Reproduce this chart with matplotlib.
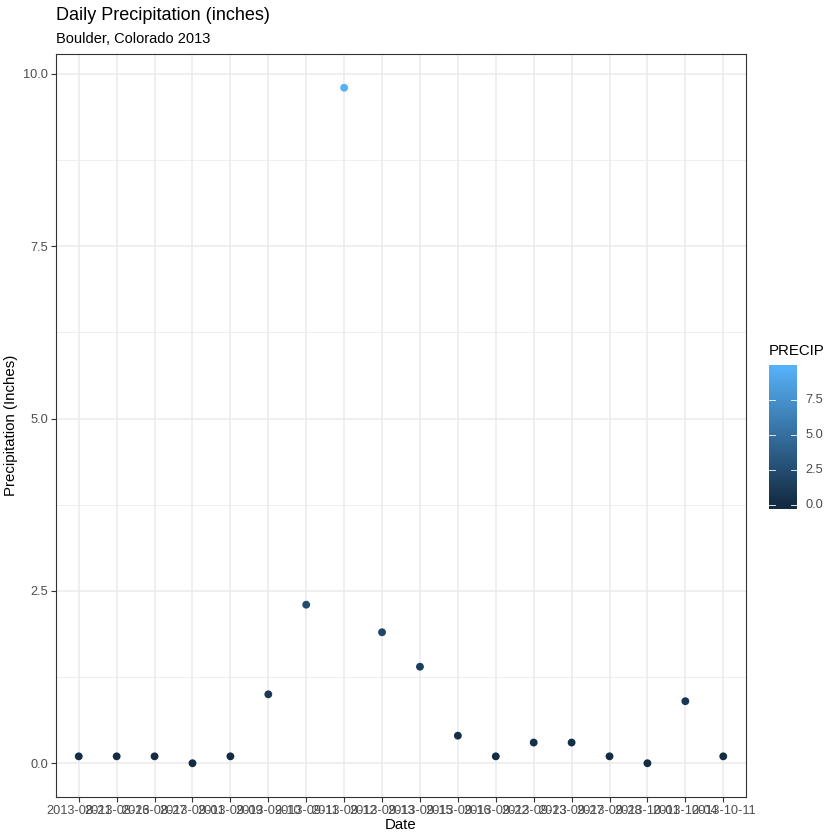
import matplotlib
matplotlib.use("Agg")
import matplotlib.pyplot as plt
import numpy as np
from matplotlib.colors import LinearSegmentedColormap, Normalize

plt.rcParams['font.family'] = ['Liberation Sans', 'DejaVu Sans']

dates = ["2013-08-21", "2013-08-26", "2013-08-27", "2013-09-01", "2013-09-09",
         "2013-09-10", "2013-09-11", "2013-09-12", "2013-09-13", "2013-09-15",
         "2013-09-16", "2013-09-22", "2013-09-23", "2013-09-27", "2013-09-28",
         "2013-10-01", "2013-10-04", "2013-10-11"]
precip = [0.1, 0.1, 0.1, 0.0, 0.1, 1.0, 2.3, 9.8, 1.9, 1.4,
          0.4, 0.1, 0.3, 0.3, 0.1, 0.0, 0.9, 0.1]
y_ticks = [0.0, 2.5, 5.0, 7.5, 10.0]
cbar_ticks = [0.0, 2.5, 5.0, 7.5]

W = H = 840
fig = plt.figure(figsize=(8.4, 8.4), dpi=100)

def fx(px):
    return px / W

def fy(py):
    return 1 - py / H

cmap = LinearSegmentedColormap.from_list("gg", ["#132B43", "#56B1F7"])
vmin, vmax = min(precip), max(precip)
norm = Normalize(vmin=vmin, vmax=vmax)

# main panel
L, R, T, B = 56, 746, 54, 797
ax = fig.add_axes([fx(L), fy(B), fx(R - L), fy(T) - fy(B)])
x = np.arange(len(dates))
ax.scatter(x, precip, c=precip, cmap=cmap, norm=norm, s=32, zorder=3, linewidths=0)
ax.set_xlim(-0.6, len(dates) - 1 + 0.6)
yr = vmax - vmin
ax.set_ylim(vmin - 0.05 * yr, vmax + 0.05 * yr)
ax.set_xticks(x)
ax.set_xticklabels(dates)
ax.set_yticks(y_ticks)
ax.set_yticklabels([f"{v:.1f}" for v in y_ticks])
minor = [(y_ticks[i] + y_ticks[i + 1]) / 2 for i in range(len(y_ticks) - 1)]
ax.set_yticks(minor, minor=True)
ax.tick_params(which='minor', length=0)
ax.grid(True, which='major', color='#EBEBEB', linewidth=1.1, zorder=0)
ax.grid(True, which='minor', axis='y', color='#EBEBEB', linewidth=0.55, zorder=0)
ax.set_axisbelow(True)
for s in ax.spines.values():
    s.set_color('#333333')
    s.set_linewidth(0.8)
ax.tick_params(which='major', length=3.5, width=0.8, color='#333333',
               labelsize=9.2, labelcolor='#4D4D4D', pad=2)
ax.set_xlabel("Date", fontsize=10.8, color='black', labelpad=1)
ax.set_ylabel("Precipitation (Inches)", fontsize=10.8, color='black', labelpad=4)

fig.text(fx(56), fy(15), "Daily Precipitation (inches)", fontsize=13, ha='left', va='center')
fig.text(fx(56), fy(39), "Boulder, Colorado 2013", fontsize=10.5, ha='left', va='center')

# colorbar
cL, cR, cT, cB = 769, 797, 365, 509
cax = fig.add_axes([fx(cL), fy(cB), fx(cR - cL), fy(cT) - fy(cB)])
lo, hi = vmin - 0.03 * yr, vmax + 0.02 * yr
vals = np.linspace(lo, hi, 300)
cols = cmap(norm(np.clip(vals, vmin, vmax)))
cax.imshow(cols[:, None, :], aspect='auto', origin='lower', extent=[0, 1, lo, hi])
cax.set_xlim(0, 1)
cax.set_ylim(lo, hi)
cax.set_xticks([])
cax.set_yticks([])
for s in cax.spines.values():
    s.set_visible(False)
for t in cbar_ticks:
    cax.plot([0, 0.2], [t, t], color='white', lw=0.6)
    cax.plot([0.8, 1], [t, t], color='white', lw=0.6)
    cax.text(1.3, t, f"{t:.1f}", fontsize=9.2, color='#4D4D4D', va='center', ha='left',
             transform=cax.get_yaxis_transform())
fig.text(fx(769), fy(351), "PRECIP", fontsize=10.8, ha='left', va='center')

fig.savefig("out.png", dpi=100)
